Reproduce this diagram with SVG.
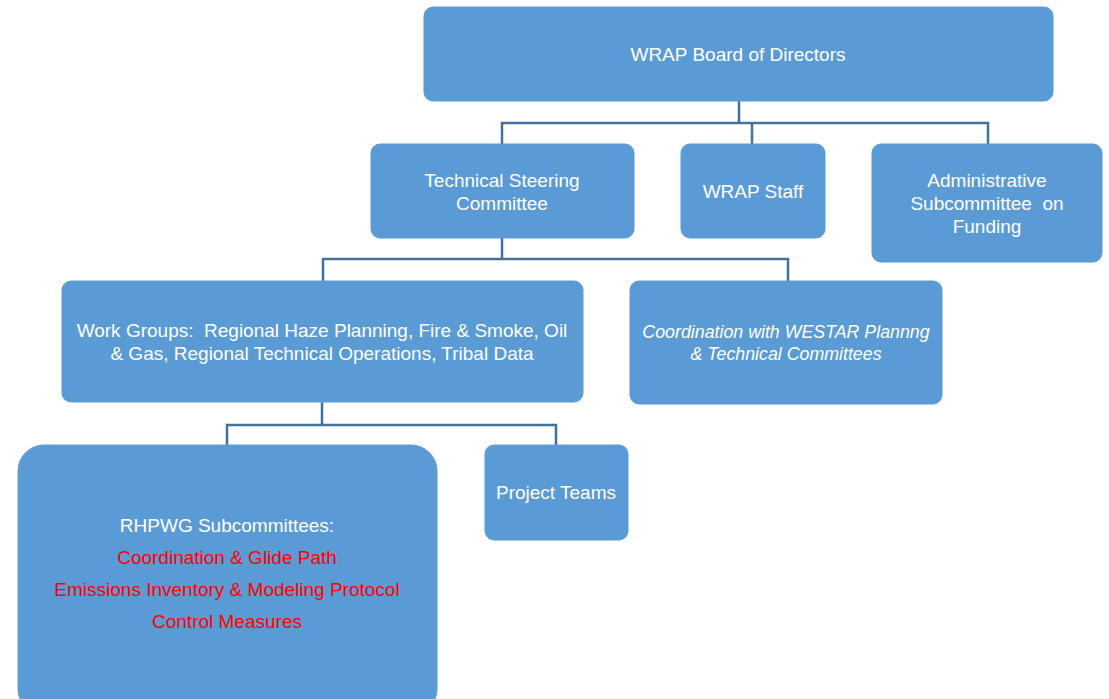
<svg xmlns="http://www.w3.org/2000/svg" width="1109" height="699" viewBox="0 0 1109 699">
<style>
.box{fill:#5B9BD5;stroke:#5B9BD5;stroke-width:1}
.t{font-family:"Liberation Sans",Arial,sans-serif;font-size:19px;fill:#FFFFFF;text-anchor:middle;white-space:pre}
.i{font-style:italic;font-size:17.8px}
.r{fill:#FF0000}
.c{fill:none;stroke:#41719C;stroke-width:2.5}
</style>
<rect width="1109" height="699" fill="#FFFFFF"/>
<g id="connectors">
<path class="c" d="M739,101 V123 M502,144 V123 H988 V144 M752,123 V144"/>
<path class="c" d="M502,238 V259 M323,281 V259 H788 V281"/>
<path class="c" d="M322,402 V425 M227,445 V425 H556 V445"/>
</g>
<g id="board">
<rect class="box" x="424" y="7" width="629" height="94" rx="9"/>
<text class="t" x="738" y="61">WRAP Board of Directors</text>
</g>
<g id="tsc">
<rect class="box" x="371" y="144" width="263" height="94" rx="9"/>
<text class="t" x="502" y="187">Technical Steering</text>
<text class="t" x="502" y="210">Committee</text>
</g>
<g id="staff">
<rect class="box" x="681" y="144" width="144" height="94" rx="9"/>
<text class="t" x="753" y="198">WRAP Staff</text>
</g>
<g id="admin">
<rect class="box" x="872" y="144" width="230" height="118" rx="9"/>
<text class="t" x="987" y="187">Administrative</text>
<text class="t" x="987" y="210">Subcommittee  on</text>
<text class="t" x="987" y="233">Funding</text>
</g>
<g id="workgroups">
<rect class="box" x="62" y="281" width="521" height="121" rx="9"/>
<text class="t" x="322" y="337" xml:space="preserve">Work Groups:  Regional Haze Planning, Fire &amp; Smoke, Oil</text>
<text class="t" x="322" y="360">&amp; Gas, Regional Technical Operations, Tribal Data</text>
</g>
<g id="coordination">
<rect class="box" x="630" y="281" width="312" height="123" rx="9"/>
<text class="t i" x="786" y="338">Coordination with WESTAR Plannng</text>
<text class="t i" x="786" y="360">&amp; Technical Committees</text>
</g>
<g id="rhpwg">
<rect class="box" x="18" y="445" width="419" height="270" rx="26"/>
<text class="t" x="227" y="532">RHPWG Subcommittees:</text>
<text class="t r" x="227" y="564">Coordination &amp; Glide Path</text>
<text class="t r" x="227" y="596">Emissions Inventory &amp; Modeling Protocol</text>
<text class="t r" x="227" y="628">Control Measures</text>
</g>
<g id="projectteams">
<rect class="box" x="485" y="445" width="143" height="95" rx="9"/>
<text class="t" x="556" y="499">Project Teams</text>
</g>
</svg>
